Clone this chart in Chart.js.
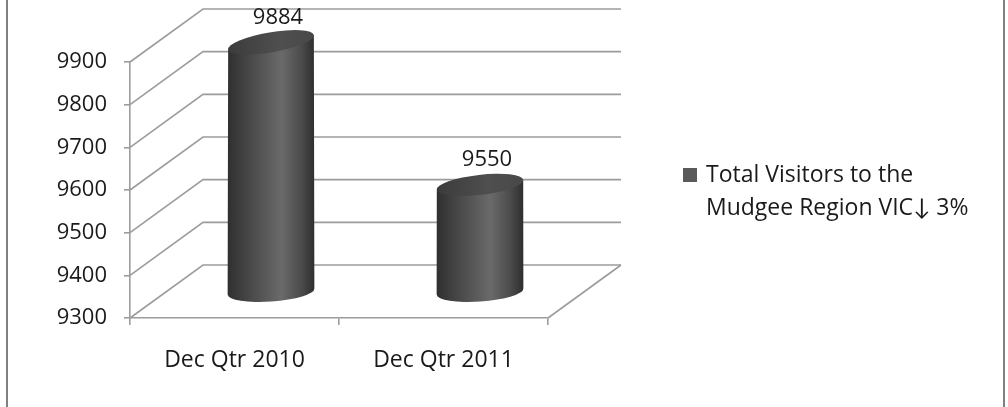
<!DOCTYPE html>
<html>
<head>
<meta charset="utf-8">
<script src="https://cdn.jsdelivr.net/npm/chart.js@4/dist/chart.umd.min.js"></script>
<style>
  html, body { margin: 0; padding: 0; background: #fff; }
  #wrap { width: 1008px; height: 407px; }
</style>
</head>
<body>
<div id="wrap"><canvas id="c" width="1008" height="407"></canvas></div>
<script>
// Chart data
const categories = ['Dec Qtr 2010', 'Dec Qtr 2011'];
const visitors = [9884, 9550];
const seriesLines = ['Total Visitors to the', 'Mudgee Region VIC\u2193 3%'];
const yTicks = [9300, 9400, 9500, 9600, 9700, 9800, 9900];

// Depth of the 3D box (back wall offset from the front face)
const DEPTH_X = 73, DEPTH_Y = -53;
const GRID = '#9c9c9c';
const TEXT = '#1a1a1a';
const FONT = '"Open Sans", Lato, "DejaVu Sans", sans-serif';

// tilt of an ellipse cap, growing with height above the floor (perspective)
const capTilt = (floorY, py) => -0.07 - (floorY - py) * 0.0004;

const scene = {
  id: 'scene',
  beforeDatasetsDraw(chart) {
    const ctx = chart.ctx, a = chart.chartArea, y = chart.scales.y;
    ctx.save();
    ctx.strokeStyle = GRID;
    ctx.lineWidth = 1.6;
    // back wall gridlines plus the side-wall diagonals
    yTicks.forEach(v => {
      const py = y.getPixelForValue(v);
      ctx.beginPath();
      ctx.moveTo(a.left, py);
      ctx.lineTo(a.left + DEPTH_X, py + DEPTH_Y);
      ctx.lineTo(a.right + DEPTH_X, py + DEPTH_Y);
      ctx.stroke();
    });
    // floor right edge
    ctx.beginPath();
    ctx.moveTo(a.right, a.bottom);
    ctx.lineTo(a.right + DEPTH_X, a.bottom + DEPTH_Y);
    ctx.stroke();
    ctx.restore();
  },
  afterDatasetsDraw(chart) {
    const ctx = chart.ctx;
    const y = chart.scales.y;
    const floor = y.getPixelForValue(y.min);
    const meta = chart.getDatasetMeta(0);
    meta.data.forEach((bar, i) => {
      const cx = bar.x + DEPTH_X / 2;
      const rx = bar.width / 2;
      const ry = 10;
      const topY = bar.y + DEPTH_Y / 2;
      const baseY = Math.min(bar.base, floor) + DEPTH_Y / 2;
      const floorMid = floor + DEPTH_Y / 2;
      const aTop = capTilt(floorMid, topY), aBot = capTilt(floorMid, baseY);
      const pt = (cy, ang, t) => [
        cx + rx * Math.cos(t) * Math.cos(ang) - ry * Math.sin(t) * Math.sin(ang),
        cy + rx * Math.cos(t) * Math.sin(ang) + ry * Math.sin(t) * Math.cos(ang)
      ];
      ctx.save();
      // cylinder body
      const g = ctx.createLinearGradient(cx - rx, 0, cx + rx, 0);
      g.addColorStop(0, '#2f2f2f');
      g.addColorStop(0.18, '#414141');
      g.addColorStop(0.62, '#6a6a6a');
      g.addColorStop(0.85, '#4b4b4b');
      g.addColorStop(1, '#2e2e2e');
      const tl = pt(topY, aTop, Math.PI), bl = pt(baseY, aBot, Math.PI), tr = pt(topY, aTop, 0);
      ctx.beginPath();
      ctx.moveTo(tl[0], tl[1]);
      ctx.lineTo(bl[0], bl[1]);
      ctx.ellipse(cx, baseY, rx, ry, aBot, Math.PI, 0, true);
      ctx.lineTo(tr[0], tr[1]);
      ctx.closePath();
      ctx.fillStyle = g;
      ctx.fill();
      // cylinder top
      const gt = ctx.createLinearGradient(cx - rx, 0, cx + rx, 0);
      gt.addColorStop(0, '#3b3b3b');
      gt.addColorStop(0.6, '#4f4f4f');
      gt.addColorStop(1, '#484848');
      ctx.beginPath();
      ctx.ellipse(cx, topY, rx, ry, aTop, 0, Math.PI * 2);
      ctx.fillStyle = gt;
      ctx.fill();
      // value label
      ctx.fillStyle = TEXT;
      ctx.font = '22px ' + FONT;
      ctx.textAlign = 'center';
      ctx.textBaseline = 'middle';
      ctx.fillText(String(visitors[i]), cx + 7, topY - 25);
      ctx.restore();
    });
  },
  afterDraw(chart) {
    const ctx = chart.ctx;
    ctx.save();
    // legend
    ctx.fillStyle = '#5a5a5a';
    ctx.fillRect(683, 168, 14, 14);
    ctx.fillStyle = TEXT;
    ctx.font = '23px ' + FONT;
    ctx.textAlign = 'left';
    ctx.textBaseline = 'middle';
    ctx.fillText(seriesLines[0], 706, 175);
    ctx.fillText(seriesLines[1], 706, 208);
    // outer frame sides
    ctx.strokeStyle = '#808080';
    ctx.lineWidth = 2;
    ctx.beginPath();
    ctx.moveTo(7, 0); ctx.lineTo(7, 407);
    ctx.moveTo(1004, 0); ctx.lineTo(1004, 407);
    ctx.stroke();
    ctx.restore();
  }
};

new Chart(document.getElementById('c'), {
  type: 'bar',
  data: {
    labels: categories,
    datasets: [{
      label: seriesLines.join(' '),
      data: visitors,
      backgroundColor: 'rgba(0,0,0,0)',
      borderWidth: 0,
      categoryPercentage: 1,
      barPercentage: 0.416
    }]
  },
  options: {
    responsive: false,
    animation: false,
    events: [],
    layout: { padding: { top: 62, left: 0, right: 460, bottom: 0 } },
    plugins: { legend: { display: false }, tooltip: { enabled: false } },
    scales: {
      x: {
        offset: true,
        grid: { offset: true, drawOnChartArea: false, drawTicks: true, tickLength: 7, color: GRID, lineWidth: 1.6 },
        border: { display: true, color: GRID, width: 1.6 },
        ticks: { color: TEXT, padding: 22, font: { family: FONT, size: 23 }, maxRotation: 0 },
        afterFit(s) { s.height = 89; }
      },
      y: {
        min: 9300,
        max: 9900,
        afterBuildTicks(s) { s.ticks = yTicks.map(v => ({ value: v })); },
        grid: { drawOnChartArea: false, drawTicks: true, tickLength: 6, color: GRID, lineWidth: 1.6 },
        border: { display: true, color: GRID, width: 1.6 },
        ticks: { color: TEXT, padding: 17, font: { family: FONT, size: 22 }, callback: v => String(v) },
        afterFit(s) { s.width = 130; }
      }
    }
  },
  plugins: [scene]
});
</script>
</body>
</html>
